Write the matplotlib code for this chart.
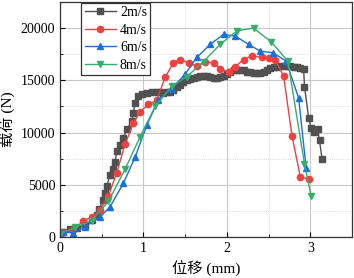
import numpy as np
import matplotlib
matplotlib.use('Agg')
import matplotlib.pyplot as plt
from matplotlib.ticker import MultipleLocator

plt.rcParams['font.family'] = ['Liberation Serif', 'Noto Sans CJK SC']
plt.rcParams['mathtext.fontset'] = 'stix'

# 2 m/s
x2 = [0.0, 0.04, 0.12, 0.2, 0.3, 0.38, 0.44, 0.47, 0.51, 0.54, 0.56, 0.60, 0.63, 0.66,
      0.68, 0.72, 0.76, 0.80, 0.86, 0.88, 0.90, 0.94, 0.98, 1.04, 1.10, 1.16, 1.20,
      1.24, 1.28, 1.32, 1.36, 1.40, 1.44, 1.48, 1.52, 1.56, 1.60, 1.64, 1.68, 1.72,
      1.76, 1.80, 1.84, 1.88, 1.92, 1.96, 2.00, 2.04, 2.08, 2.12, 2.16, 2.20, 2.24,
      2.28, 2.32, 2.36, 2.40, 2.44, 2.48, 2.52, 2.56, 2.60, 2.64, 2.68, 2.72, 2.76,
      2.80, 2.84, 2.88, 2.92, 2.93, 2.98, 3.01, 3.04, 3.09, 3.11, 3.14]
y2 = [300, 500, 740, 900, 1150, 1600, 2100, 2650, 3500, 4200, 4850, 5950, 6500, 7150,
      8250, 8850, 9500, 10300, 11100, 11900, 12850, 13500, 13650, 13800, 13900, 13900, 13850,
      13800, 13850, 13900, 14100, 14400, 14600, 14800, 15000, 15100, 15250, 15350, 15450, 15450,
      15400, 15350, 15250, 15250, 15300, 15450, 15650, 15850, 15950, 16000, 16000, 15950, 15850,
      15800, 15750, 15700, 15750, 15850, 16000, 16150, 16250, 16300, 16350, 16350, 16350, 16350,
      16300, 16250, 16150, 16050, 14400, 11400, 10450, 10100, 10300, 9250, 7500]

# 4 m/s
x4 = [0.0, 0.04, 0.16, 0.28, 0.38, 0.48, 0.58, 0.68, 0.78, 0.88, 0.96, 1.06, 1.16, 1.26,
      1.36, 1.44, 1.54, 1.64, 1.74, 1.84, 1.92, 2.02, 2.10, 2.20, 2.30, 2.42, 2.50, 2.58,
      2.68, 2.78, 2.88, 2.98]
y4 = [300, 500, 670, 1570, 1890, 2600, 3950, 6150, 8900, 10900, 12000, 12700, 13100, 15300,
      16700, 17000, 16700, 16350, 16750, 16700, 16100, 15800, 16300, 17000, 17350, 17200, 17100, 16950,
      15400, 9700, 5750, 5550]

# 6 m/s
x6 = [0.0, 0.04, 0.16, 0.30, 0.48, 0.60, 0.76, 0.90, 1.04, 1.18, 1.34, 1.50, 1.64, 1.80,
      1.96, 2.10, 2.26, 2.40, 2.55, 2.71, 2.86, 2.95]
y6 = [300, 500, 400, 1000, 1900, 2900, 5150, 7650, 10700, 13150, 14200, 15600, 17200, 18450,
      19400, 19250, 18450, 17800, 17650, 16850, 13300, 6600]

# 8 m/s
x8 = [0.0, 0.18, 0.38, 0.58, 0.78, 0.96, 1.14, 1.34, 1.52, 1.72, 1.92, 2.12, 2.32, 2.53,
      2.73, 2.93, 3.01]
y8 = [300, 930, 1570, 3400, 6500, 9600, 12500, 14450, 15350, 16800, 18450, 19750, 20000, 18700,
      16850, 7000, 3900]

fig = plt.figure(figsize=(3.54, 2.78), dpi=100)
ax = fig.add_axes([0.1695, 0.1475, 0.825, 0.845])

ax.plot(x2, y2, color='#515151', marker='s', ms=4, lw=1.0, label='2m/s')
ax.plot(x4, y4, color='#F14040', marker='o', ms=4.5, lw=1.0, label='4m/s')
ax.plot(x6, y6, color='#1A6FDF', marker='^', ms=5, lw=1.0, label='6m/s')
ax.plot(x8, y8, color='#37AD6B', marker='v', ms=5, lw=1.0, label='8m/s')

ax.set_xlim(0, 3.5)
ax.set_ylim(0, 22500)
ax.xaxis.set_major_locator(MultipleLocator(1))
ax.xaxis.set_minor_locator(MultipleLocator(0.5))
ax.yaxis.set_major_locator(MultipleLocator(5000))
ax.yaxis.set_minor_locator(MultipleLocator(2500))
ax.grid(which='major', color='#c8c8c8', lw=0.8)
ax.grid(which='minor', color='#d0d0d0', lw=0.6, ls=':')
ax.set_axisbelow(True)
ax.tick_params(which='both', direction='in', labelsize=10, top=False, right=False)
ax.tick_params(which='major', length=3.5)
ax.tick_params(which='minor', length=2)
for s in ax.spines.values():
    s.set_color('#333333')
    s.set_linewidth(0.9)

ax.set_xlabel('位移 (mm)', fontsize=11, labelpad=4)
ax.set_ylabel('载荷 (N)', fontsize=11, labelpad=4)

leg = ax.legend(loc='upper left', bbox_to_anchor=(0.072, 0.998), borderaxespad=0,
                fontsize=10, handlelength=2.3, fancybox=False, framealpha=1,
                labelspacing=0.33, borderpad=0.25, handletextpad=0.25)
leg.get_frame().set_edgecolor('#333333')
leg.get_frame().set_linewidth(0.9)

fig.savefig('out.png', dpi=100)
